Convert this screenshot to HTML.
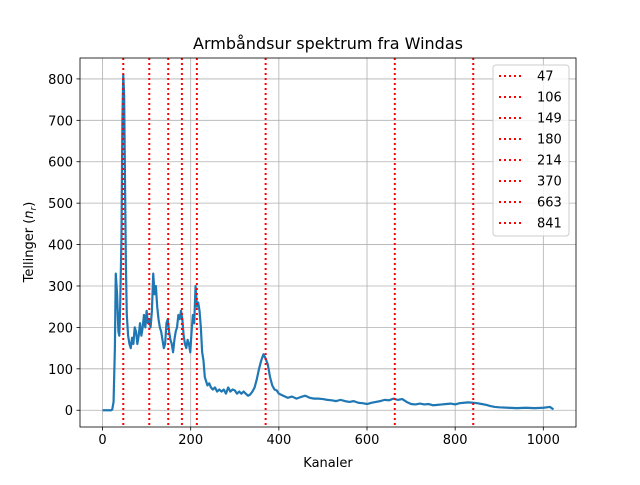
<!DOCTYPE html>
<html><head><meta charset="utf-8"><style>
body{margin:0;background:#fff}
svg{font-family:"DejaVu Sans","Liberation Sans",sans-serif}
</style></head><body>
<svg id="c" width="640" height="480" xmlns="http://www.w3.org/2000/svg"></svg>
<script>
const channels=[0,20,22,25,28,30,33,36,38,40,43,45,47,49,51,53,55,58,61,64,67,70,73,76,79,82,85,88,91,94,97,100,103,106,109,112,115,118,121,124,127,130,133,136,139,142,145,148,151,154,157,160,163,166,169,172,175,178,181,184,187,190,193,196,199,202,205,208,211,214,217,220,223,226,229,232,235,238,242,246,250,255,260,265,270,275,280,285,290,295,300,305,310,315,320,325,330,335,340,345,350,355,360,365,370,375,380,385,390,395,400,410,420,430,440,450,460,470,480,490,500,510,520,530,540,550,560,570,580,590,600,610,620,630,640,650,660,670,680,690,700,710,720,730,740,750,760,770,780,790,800,810,820,830,840,850,860,870,880,890,900,920,940,960,980,1000,1015,1023];
const counts=[0,0,2,20,150,330,280,190,180,250,420,700,810,760,550,350,230,180,160,150,175,160,200,190,160,180,210,180,200,230,200,240,210,220,200,240,330,280,300,250,220,200,190,170,150,160,210,220,190,170,160,140,170,190,200,230,220,240,220,180,160,150,170,160,140,190,230,210,300,250,260,240,200,140,120,80,70,60,65,55,50,55,45,50,45,50,40,55,45,50,48,40,45,40,45,40,35,38,45,55,75,100,120,135,125,110,80,60,50,48,40,35,30,33,28,32,35,30,28,28,27,25,24,22,25,22,20,22,18,17,15,18,20,22,25,24,28,25,27,20,15,14,16,14,15,12,13,14,15,16,14,17,18,19,18,17,15,13,10,8,7,6,5,6,5,6,8,2];
const markers=[47,106,149,180,214,370,663,841];
const xTicks=[0,200,400,600,800,1000];
const yTicks=[0,100,200,300,400,500,600,700,800];
const L=80,R=576,T=58,B=427,x0=-51.15,x1=1074.15,y0=-40.5,y1=850.5;
const X=v=>L+(v-x0)/(x1-x0)*(R-L), Y=v=>B-(v-y0)/(y1-y0)*(B-T);
const svg=document.getElementById('c'),NS='http://www.w3.org/2000/svg';
function mk(t,a,p){const e=document.createElementNS(NS,t);for(const k in a)e.setAttribute(k,a[k]);(p||svg).appendChild(e);return e;}
let e;
xTicks.forEach(v=>{e=mk('line',{x1:X(v),x2:X(v),y1:T,y2:B,stroke:'#b0b0b0','stroke-width':0.8});

e=mk('line',{x1:X(v),x2:X(v),y1:B,y2:B+3.5,stroke:'#000','stroke-width':0.8});

e=mk('text',{x:X(v),y:B+17,'text-anchor':'middle','font-size':13});e.textContent=v;
});
yTicks.forEach(v=>{e=mk('line',{x1:L,x2:R,y1:Y(v),y2:Y(v),stroke:'#b0b0b0','stroke-width':0.8});

e=mk('line',{x1:L-3.5,x2:L,y1:Y(v),y2:Y(v),stroke:'#000','stroke-width':0.8});

e=mk('text',{x:L-7,y:Y(v)+5,'text-anchor':'end','font-size':13});e.textContent=v;
});
e=mk('polyline',{points:channels.map((c,i)=>X(c)+','+Y(counts[i])).join(' '),fill:'none',stroke:'#1f77b4','stroke-width':2.2,'stroke-linejoin':'round'});

markers.forEach(m=>{e=mk('line',{x1:X(m),x2:X(m),y1:T,y2:B,stroke:'red','stroke-width':2,'stroke-dasharray':'2,3'});
});
e=mk('rect',{x:L,y:T,width:R-L,height:B-T,fill:'none',stroke:'#000','stroke-width':0.8});

e=mk('text',{x:(L+R)/2,y:49,'text-anchor':'middle','font-size':16});e.textContent='Armbåndsur spektrum fra Windas';

e=mk('text',{x:(L+R)/2,y:467,'text-anchor':'middle','font-size':13});e.textContent='Kanaler';

e=mk('text',{transform:'translate(33,242) rotate(-90)','text-anchor':'middle','font-size':13});
e.innerHTML='Tellinger (<tspan font-style="italic">n</tspan><tspan font-style="italic" font-size="9" dy="3">r</tspan><tspan dy="-3">)</tspan>';

const lg=mk('g',{});
e=mk('rect',{x:493,y:65,width:76,height:171,rx:3,fill:'#fff','fill-opacity':0.8,stroke:'#ccc','stroke-width':1},lg);

markers.forEach((m,i)=>{const y=76+i*21;
e=mk('line',{x1:499,x2:523,y1:y,y2:y,stroke:'red','stroke-width':2,'stroke-dasharray':'2,3'},lg);

e=mk('text',{x:537,y:y+4.5,'font-size':13},lg);e.textContent=m;
});
</script>
</body></html>
